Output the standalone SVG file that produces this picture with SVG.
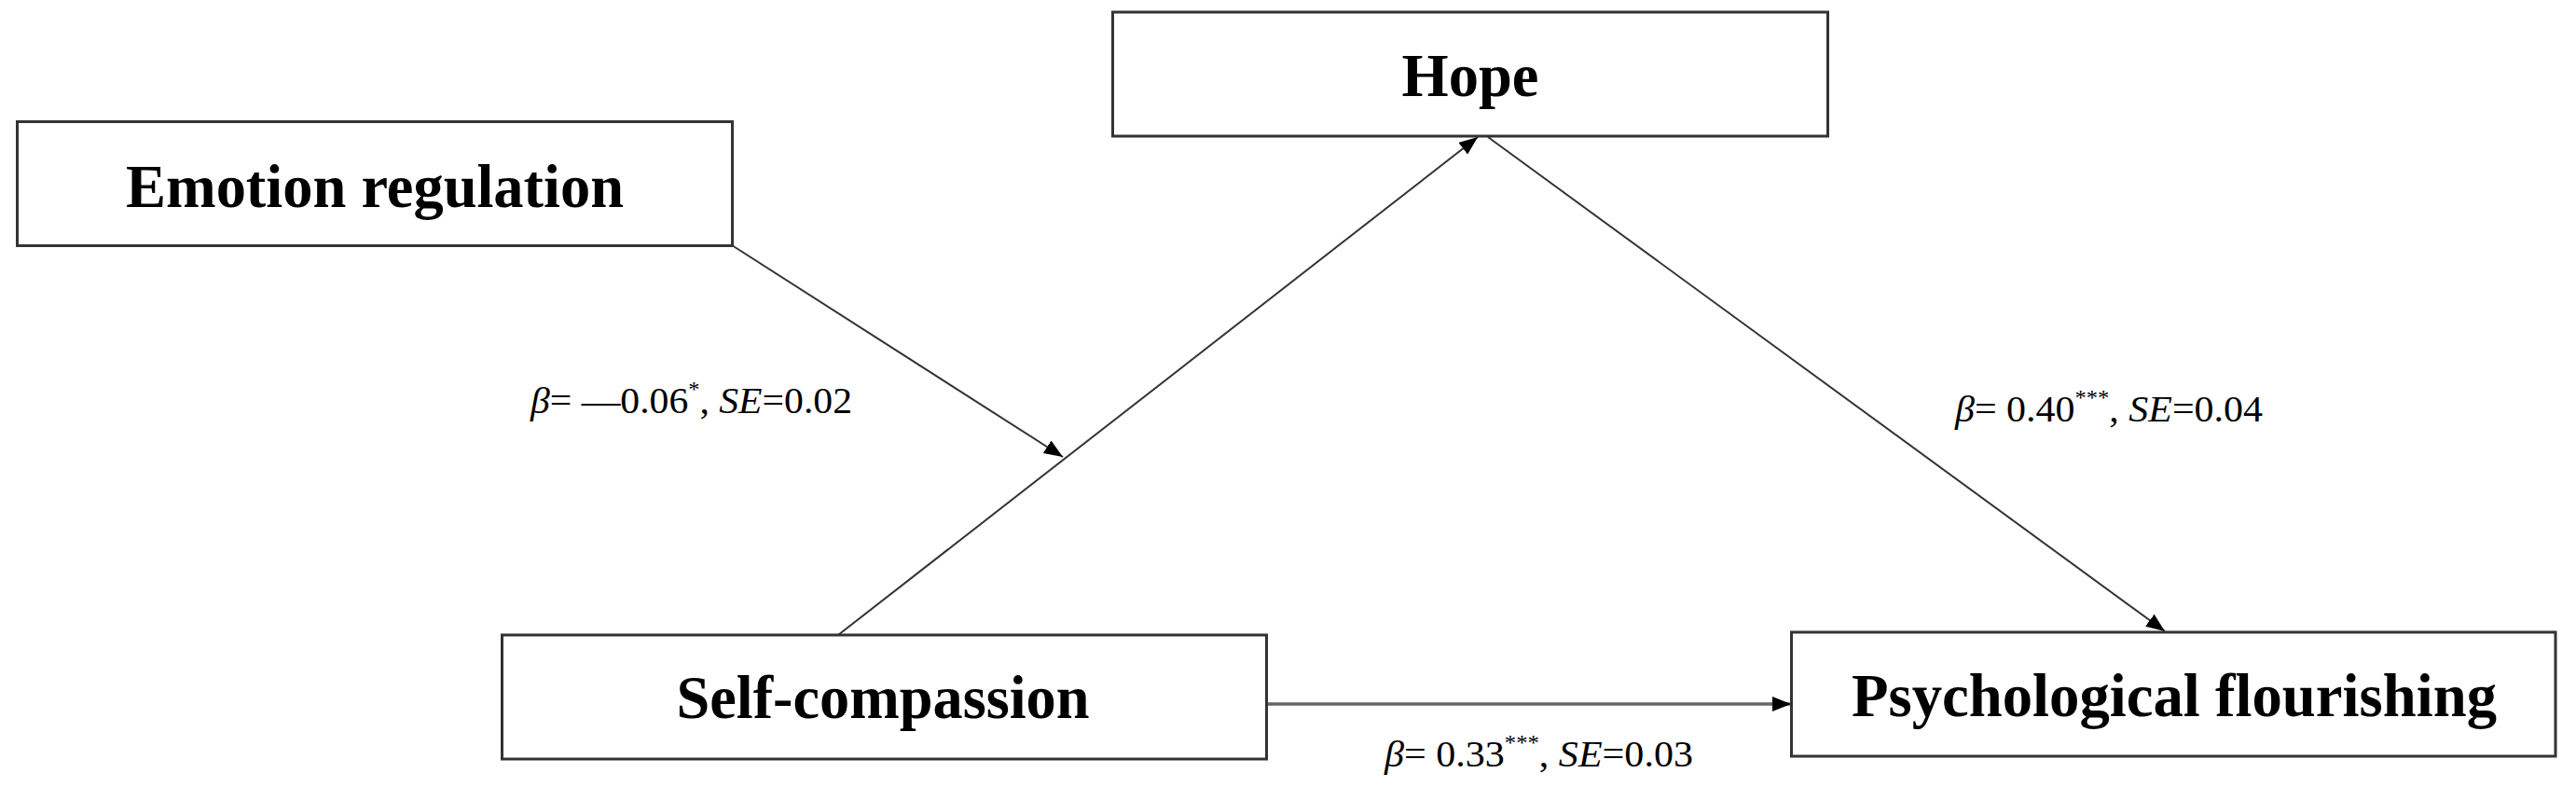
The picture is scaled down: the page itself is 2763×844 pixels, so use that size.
<svg xmlns="http://www.w3.org/2000/svg" width="2763" height="844" viewBox="0 0 2763 844">
  <style>
    .box { fill: #ffffff; stroke: #333333; stroke-width: 3; }
    .node-label { font-family: "Liberation Serif", "Times New Roman", serif; font-weight: bold; font-size: 66px; fill: #000000; text-anchor: middle; }
    .edge { stroke: #333333; stroke-width: 2; fill: none; }
    .edge-h { stroke: #666666; stroke-width: 3.5; fill: none; }
    .edge-label { font-family: "Liberation Serif", "Times New Roman", serif; font-size: 41px; fill: #000000; }
    .it { font-style: italic; }
    .sup { font-size: 24px; }
  </style>
  <defs>
    <marker id="arrow" markerUnits="userSpaceOnUse" markerWidth="22" markerHeight="16" refX="20" refY="8" orient="auto">
      <path d="M0,0 L20,8 L0,16 z" fill="#000000"/>
    </marker>
  </defs>
  <rect width="2763" height="844" fill="#ffffff"/>

  <g id="connectors">
    <line class="edge" x1="785" y1="263" x2="1140" y2="490" marker-end="url(#arrow)"/>
    <line class="edge" x1="899" y1="681" x2="1585" y2="147" marker-end="url(#arrow)"/>
    <line class="edge" x1="1596" y1="147" x2="2322" y2="677" marker-end="url(#arrow)"/>
    <line class="edge-h" x1="1359" y1="755" x2="1921" y2="755" marker-end="url(#arrow)"/>
    <text class="edge-label" x="569" y="443" textLength="345" lengthAdjust="spacingAndGlyphs"><tspan class="it">β</tspan>= —0.06<tspan class="sup" dy="-18">*</tspan><tspan dy="18">, </tspan><tspan class="it">SE</tspan>=0.02</text>
    <text class="edge-label" x="2097" y="452" textLength="330" lengthAdjust="spacingAndGlyphs"><tspan class="it">β</tspan>= 0.40<tspan class="sup" dy="-18">***</tspan><tspan dy="18">, </tspan><tspan class="it">SE</tspan>=0.04</text>
    <text class="edge-label" x="1485" y="822" textLength="331" lengthAdjust="spacingAndGlyphs"><tspan class="it">β</tspan>= 0.33<tspan class="sup" dy="-18">***</tspan><tspan dy="18">, </tspan><tspan class="it">SE</tspan>=0.03</text>
  </g>

  <g id="node-emotion-regulation">
    <rect class="box" x="18.5" y="130.5" width="767" height="133"/>
    <text class="node-label" x="402" y="222" textLength="534" lengthAdjust="spacingAndGlyphs">Emotion regulation</text>
  </g>

  <g id="node-hope">
    <rect class="box" x="1193.5" y="13" width="767" height="133"/>
    <text class="node-label" x="1577" y="103" textLength="147" lengthAdjust="spacingAndGlyphs">Hope</text>
  </g>

  <g id="node-self-compassion">
    <rect class="box" x="538.5" y="681" width="820" height="133"/>
    <text class="node-label" x="947" y="770" textLength="443" lengthAdjust="spacingAndGlyphs">Self-compassion</text>
  </g>

  <g id="node-psychological-flourishing">
    <rect class="box" x="1921.5" y="678" width="819.5" height="133"/>
    <text class="node-label" x="2332" y="768" textLength="692" lengthAdjust="spacingAndGlyphs">Psychological flourishing</text>
  </g>
</svg>
